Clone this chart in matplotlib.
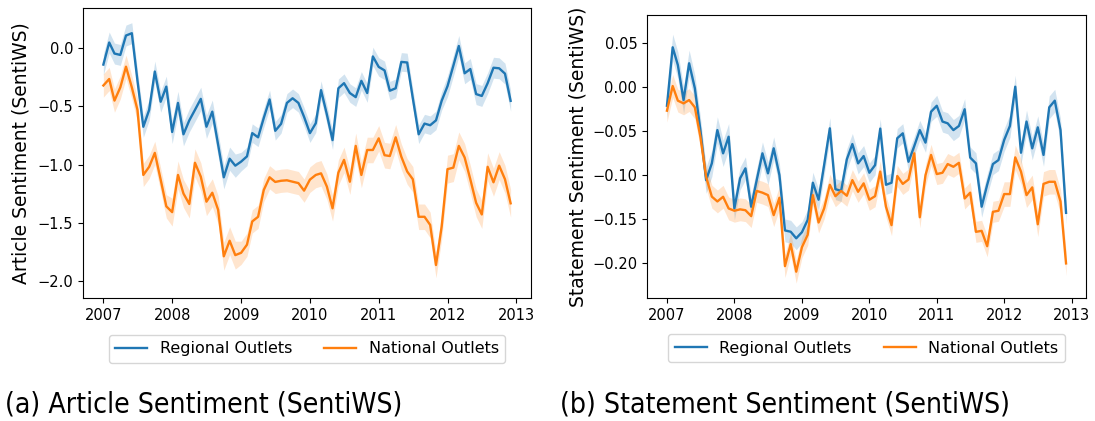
import numpy as np
import pandas as pd
import matplotlib
matplotlib.use("Agg")
import matplotlib.pyplot as plt
import matplotlib.dates as mdates
from matplotlib.ticker import FuncFormatter

plt.rcParams["font.family"] = ["DejaVu Sans"]

months = pd.date_range("2007-01-01", periods=72, freq="MS")
series_names = ["Regional Outlets", "National Outlets"]

# Monthly mean article sentiment (SentiWS)
article_regional = [
    -0.14, 0.05, -0.045, -0.057, 0.11, 0.13, -0.28, -0.675, -0.53, -0.20, -0.46, -0.33,
    -0.72, -0.47, -0.74, -0.62, -0.53, -0.435, -0.675, -0.545, -0.83, -1.11, -0.95, -1.01,
    -0.975, -0.93, -0.73, -0.766, -0.60, -0.44, -0.71, -0.65, -0.47, -0.43, -0.47, -0.59,
    -0.73, -0.645, -0.36, -0.57, -0.79, -0.344, -0.30, -0.385, -0.42, -0.28, -0.385, -0.07,
    -0.16, -0.19, -0.365, -0.344, -0.117, -0.122, -0.43, -0.74, -0.648, -0.662, -0.62, -0.452,
    -0.326, -0.15, 0.02, -0.215, -0.178, -0.394, -0.41, -0.30, -0.167, -0.172, -0.218, -0.452,
]
article_national = [
    -0.32, -0.264, -0.45, -0.336, -0.158, -0.336, -0.53, -1.09, -1.02, -0.90, -1.13, -1.36,
    -1.41, -1.09, -1.25, -1.34, -0.985, -1.105, -1.32, -1.243, -1.39, -1.79, -1.656, -1.78,
    -1.76, -1.69, -1.49, -1.45, -1.22, -1.11, -1.15, -1.14, -1.136, -1.148, -1.16, -1.225,
    -1.13, -1.09, -1.076, -1.19, -1.377, -1.07, -0.96, -1.148, -0.84, -1.09, -0.875, -0.875,
    -0.775, -0.92, -0.927, -0.766, -0.933, -1.06, -1.127, -1.45, -1.45, -1.52, -1.865, -1.535,
    -1.04, -1.027, -0.84, -0.94, -1.127, -1.33, -1.43, -1.02, -1.153, -1.01, -1.127, -1.334,
]
# Half-width of the confidence band, one value per year
article_regional_ci = [0.09, 0.10, 0.08, 0.08, 0.08, 0.09]
article_national_ci = [0.10, 0.12, 0.10, 0.11, 0.11, 0.12]

# Monthly mean statement sentiment (SentiWS)
statement_regional = [
    -0.021, 0.0456, 0.0254, -0.0145, 0.0274, -0.001, -0.0487, -0.1057, -0.0866, -0.0487, -0.0752, -0.0563,
    -0.138, -0.1037, -0.0923, -0.136, -0.1057, -0.0752, -0.098, -0.0695, -0.10, -0.163, -0.1645, -0.172,
    -0.165, -0.151, -0.1087, -0.128, -0.0886, -0.0467, -0.116, -0.118, -0.082, -0.0646, -0.0866, -0.0783,
    -0.0973, -0.0886, -0.047, -0.111, -0.1087, -0.058, -0.0524, -0.0848, -0.067, -0.0487, -0.063, -0.0278,
    -0.021, -0.039, -0.041, -0.0487, -0.044, -0.025, -0.080, -0.0866, -0.136, -0.111, -0.0874, -0.0829,
    -0.060, -0.044, 0.0007, -0.0745, -0.039, -0.0695, -0.0456, -0.077, -0.0228, -0.0152, -0.0487, -0.143,
]
statement_national = [
    -0.0266, 0.0015, -0.0152, -0.0183, -0.0145, -0.0228, -0.0563, -0.102, -0.1245, -0.130, -0.1247, -0.138,
    -0.1406, -0.139, -0.140, -0.1467, -0.118, -0.120, -0.1228, -0.1456, -0.1258, -0.2037, -0.1786, -0.210,
    -0.182, -0.168, -0.1228, -0.154, -0.138, -0.111, -0.124, -0.118, -0.1235, -0.1057, -0.119, -0.1094,
    -0.128, -0.124, -0.096, -0.136, -0.157, -0.101, -0.110, -0.105, -0.0752, -0.148, -0.100, -0.077,
    -0.0988, -0.0973, -0.0874, -0.0905, -0.086, -0.1266, -0.120, -0.1646, -0.1635, -0.181, -0.1418, -0.1406,
    -0.1216, -0.1216, -0.0798, -0.096, -0.1228, -0.114, -0.156, -0.110, -0.1076, -0.1076, -0.130, -0.2006,
]
statement_regional_ci = [0.015, 0.013, 0.012, 0.011, 0.012, 0.013]
statement_national_ci = [0.013, 0.013, 0.012, 0.012, 0.012, 0.014]

article_ticks = [0.0, -0.5, -1.0, -1.5, -2.0]
statement_ticks = [0.05, 0.0, -0.05, -0.10, -0.15, -0.20]

W, H = 1095, 421
fig = plt.figure(figsize=(W / 100, H / 100), dpi=100)


def px_axes(left, top, right, bottom):
    return fig.add_axes([left / W, 1 - bottom / H, (right - left) / W, (bottom - top) / H])


def minus_fmt(decimals):
    def f(v, pos):
        s = f"{v:.{decimals}f}"
        if s.startswith("-"):
            s = "\u2212" + s[1:]
        return s
    return FuncFormatter(f)


def draw_panel(ax, regional, national, reg_ci, nat_ci, ylabel, yticks, decimals):
    for vals, ci, color, name in [
        (regional, reg_ci, "C0", series_names[0]),
        (national, nat_ci, "C1", series_names[1]),
    ]:
        v = np.asarray(vals)
        hw = np.repeat(ci, 12)
        ax.fill_between(months, v - hw, v + hw, color=color, alpha=0.2, linewidth=0)
        ax.plot(months, v, color=color, linewidth=1.7, label=name)
    ax.xaxis.set_major_locator(mdates.YearLocator())
    ax.xaxis.set_major_formatter(mdates.DateFormatter("%Y"))
    ax.set_yticks(yticks)
    ax.yaxis.set_major_formatter(minus_fmt(decimals))
    ax.tick_params(labelsize=10.5)
    ax.set_ylabel(ylabel, fontsize=13.5)
    leg = ax.legend(loc="upper center", bbox_to_anchor=(0.5, -0.10), ncol=2,
                    fontsize=11.5, columnspacing=2.0, handlelength=2.0)
    return leg


ax1 = px_axes(83, 8, 531, 298)
draw_panel(ax1, article_regional, article_national, article_regional_ci,
           article_national_ci, "Article Sentiment (SentiWS)", article_ticks, 1)
ax1.set_ylim(-2.149, 0.347)
ax1.yaxis.set_label_coords(-0.118, 0.5)

ax2 = px_axes(647, 15, 1086, 298)
draw_panel(ax2, statement_regional, statement_national, statement_regional_ci,
           statement_national_ci, "Statement Sentiment (SentiWS)", statement_ticks, 2)
ax2.set_ylim(-0.240, 0.0824)
ax2.yaxis.set_label_coords(-0.135, 0.5)

cap_font = dict(family=["DejaVu Sans"], fontstretch="condensed", fontsize=20.3)
fig.text(5 / W, 1 - 405 / H, "(a) Article Sentiment (SentiWS)", va="center", ha="left", **cap_font)
fig.text(560 / W, 1 - 405 / H, "(b) Statement Sentiment (SentiWS)", va="center", ha="left", **cap_font)

fig.savefig("out.png", dpi=100)
